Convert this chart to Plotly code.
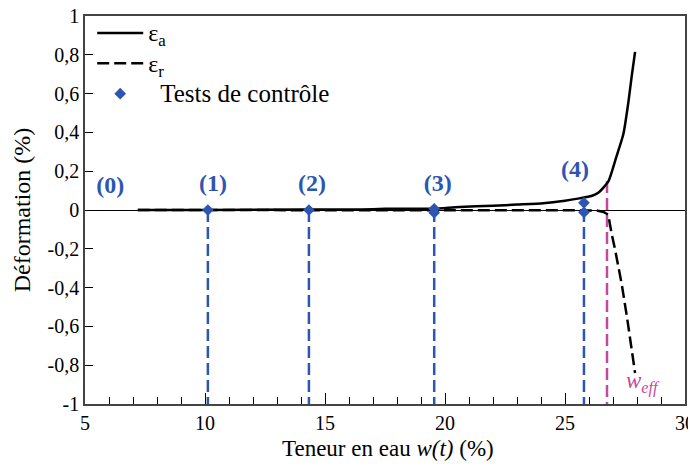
import plotly.graph_objects as go

# deformation curves
ea_x = [7.2, 10, 14, 16.5, 17.5, 19.5, 20.6, 22, 23, 24.1, 25, 25.6, 26.1, 26.4,
        26.8, 26.95, 27.13, 27.43, 27.64, 27.78, 27.92]
ea_y = [0, 0, 0.002, 0.003, 0.006, 0.007, 0.016, 0.022, 0.028, 0.035, 0.048, 0.06, 0.072,
        0.09, 0.146, 0.197, 0.27, 0.39, 0.555, 0.69, 0.815]

er_x = [7.2, 12, 18, 22, 26.0, 26.3, 26.6, 26.8, 26.95, 27.08, 27.36, 27.58, 27.92]
er_y = [0, 0, 0, 0, 0, -0.002, -0.01, -0.024, -0.126, -0.2, -0.38, -0.55, -0.84]

# control tests
test_x = [10.12, 14.33, 19.55, 25.79]
test_marker_x = [10.12, 14.33, 19.55, 19.55, 25.79, 25.79]
test_marker_y = [0, 0, 0.006, -0.014, 0.037, -0.012]
label_x = [6.05, 10.33, 14.46, 19.7, 25.42]
label_y = [0.12, 0.13, 0.13, 0.13, 0.2]
label_txt = ['(0)', '(1)', '(2)', '(3)', '(4)']

w_eff = 26.75
w_eff_top = 0.15

y_ticks = [1, 0.8, 0.6, 0.4, 0.2, 0, -0.2, -0.4, -0.6, -0.8, -1]
y_tick_txt = ['1', '0,8', '0,6', '0,4', '0,2', '0', '-0,2', '-0,4', '-0,6', '-0,8', '-1']

blue = '#2D55B2'
pink = '#C14A9C'
font = 'Liberation Serif'
dash = '12px,5px'

fig = go.Figure()

# vertical dashed lines from the tests down to the bottom
for x in test_x:
    fig.add_trace(go.Scatter(x=[x, x], y=[0, -1], mode='lines',
                             line=dict(color=blue, width=2.5, dash=dash),
                             showlegend=False, hoverinfo='skip'))
fig.add_trace(go.Scatter(x=[w_eff, w_eff], y=[w_eff_top, -1], mode='lines',
                         line=dict(color=pink, width=2.5, dash=dash),
                         showlegend=False, hoverinfo='skip'))

fig.add_trace(go.Scatter(x=ea_x, y=ea_y, mode='lines',
                         name='<span style="font-size:24px">ε<sub>a</sub></span>',
                         line=dict(color='black', width=2.5, shape='spline', smoothing=0.6)))
fig.add_trace(go.Scatter(x=er_x, y=er_y, mode='lines',
                         name='<span style="font-size:24px">ε<sub>r</sub></span>',
                         line=dict(color='black', width=2.5, dash=dash)))
fig.add_trace(go.Scatter(x=test_marker_x, y=test_marker_y, mode='markers',
                         name='<span style="font-size:25px">  Tests de contrôle</span>',
                         marker=dict(symbol='diamond', size=9, color=blue)))

fig.add_trace(go.Scatter(x=label_x, y=label_y, mode='text', text=label_txt,
                         textfont=dict(family=font, size=24, color=blue, weight='bold'),
                         showlegend=False, hoverinfo='skip'))

fig.add_annotation(x=27.45, y=-0.89, text='<i>w<sub>eff</sub></i>', showarrow=False,
                   xanchor='left', font=dict(family=font, size=23, color=pink))
fig.add_annotation(x=0.505, y=-0.115, xref='paper', yref='paper',
                   text='Teneur en eau <i>w(t)</i> (%)', showarrow=False,
                   xanchor='center', yanchor='middle', font=dict(family=font, size=23))

# page body adds an 8px offset; the figure runs a little past the window on the right
fig.update_layout(
    width=696, height=456,
    margin=dict(l=77, r=19, t=5, b=60),
    plot_bgcolor='white', paper_bgcolor='white',
    font=dict(family=font, size=20, color='black'),
    legend=dict(x=0.012, y=1.008, xanchor='left', yanchor='top',
                bgcolor='rgba(0,0,0,0)', font=dict(family=font, size=21),
                tracegroupgap=0, itemwidth=46),
)
fig.update_xaxes(range=[5, 30], tickvals=[5, 10, 15, 20, 25, 30], automargin=False,
                 tickfont=dict(family=font, size=20, color='black'),
                 ticklabeloverflow='allow',
                 ticks='inside', ticklen=11, tickcolor='black', tickwidth=1,
                 minor=dict(dtick=1, ticks='inside', ticklen=7, tickcolor='black', tickwidth=1),
                 showgrid=False, zeroline=False,
                 showline=True, mirror=True, linecolor='#444', linewidth=1.5)
fig.update_yaxes(range=[-1, 1], tickvals=y_ticks, ticktext=y_tick_txt, automargin=False,
                 tickfont=dict(family=font, size=20, color='black'),
                 ticklabeloverflow='allow',
                 ticks='inside', ticklen=8, tickcolor='black', tickwidth=1,
                 showgrid=False, zeroline=True, zerolinecolor='black', zerolinewidth=1,
                 showline=True, mirror=True, linecolor='#444', linewidth=1.5,
                 title=dict(text='Déformation (%)', font=dict(family=font, size=24), standoff=10))

fig.write_html("out.html")
